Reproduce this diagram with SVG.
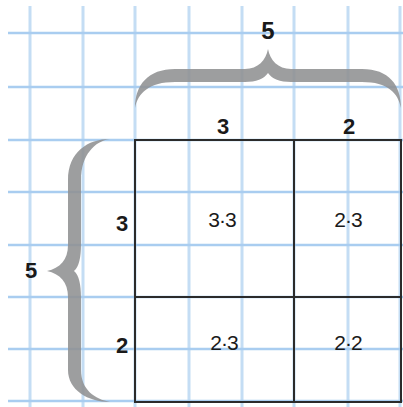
<svg xmlns="http://www.w3.org/2000/svg" width="403" height="407" viewBox="0 0 403 407">
<style>
.gv{stroke:#c4ddf4;stroke-width:3;fill:none}
.gh{stroke:#a9cdf0;stroke-width:2.5;fill:none}
.brace{fill:#8f9192;fill-opacity:0.88}
.box{fill:none;stroke:#2b2b2b;stroke-width:2}
.dim{font-family:"Liberation Sans",Arial,sans-serif;font-weight:bold;font-size:22px;fill:#1a1a1a;text-anchor:middle}
.cell{font-family:"Liberation Sans",Arial,sans-serif;font-size:21px;fill:#1a1a1a;text-anchor:middle;letter-spacing:-1px}
</style>
<rect width="403" height="407" fill="#ffffff"/>
<g id="grid">
<path class="gv" d="M30,6V407M83,6V407M135,6V407M189,6V407M242,6V407M294,6V407M348,6V407M400,6V407"/>
<path class="gh" d="M8,33H403M8,87H403M8,140H403M8,192H403M8,245H403M8,297H403M8,349H403M8,401H403"/>
</g>
<g id="braces">
<path class="brace" d="M135,108 C135,85 148,69 175,69 L245,69 C258,69 266,60 268,49 C270,60 278,69 291,69 L362,69 C389,69 401,85 401,108 C398,93 388,82 362,82 L291,82 C280,82 272,79 268,73 C264,79 256,82 245,82 L175,82 C149,82 138,93 135,108 Z"/>
<path class="brace" d="M110,139 C88,139 68,152 68,180 L68,245 C68,260 60,268 47,271 C60,274 68,282 68,297 L68,370 C68,390 88,402 110,402 C95,399 81,390 81,370 L81,297 C81,285 79,275 74,271 C79,267 81,257 81,245 L81,180 C81,155 95,141 110,139 Z"/>
</g>
<g id="cell-3x3"><rect class="box" x="135" y="140" width="159" height="157"/><text class="cell" x="222" y="227">3·3</text></g>
<g id="cell-2x3-top"><rect class="box" x="294" y="140" width="107" height="157"/><text class="cell" x="348" y="227">2·3</text></g>
<g id="cell-2x3-bottom"><rect class="box" x="135" y="297" width="159" height="105"/><text class="cell" x="224" y="350">2·3</text></g>
<g id="cell-2x2"><rect class="box" x="294" y="297" width="107" height="105"/><text class="cell" x="348" y="350">2·2</text></g>
<g id="labels">
<text class="dim" x="268" y="39" style="font-size:24px">5</text>
<text class="dim" x="223" y="134">3</text>
<text class="dim" x="349" y="134">2</text>
<text class="dim" x="122" y="231">3</text>
<text class="dim" x="122" y="353">2</text>
<text class="dim" x="31" y="278">5</text>
</g>
</svg>
